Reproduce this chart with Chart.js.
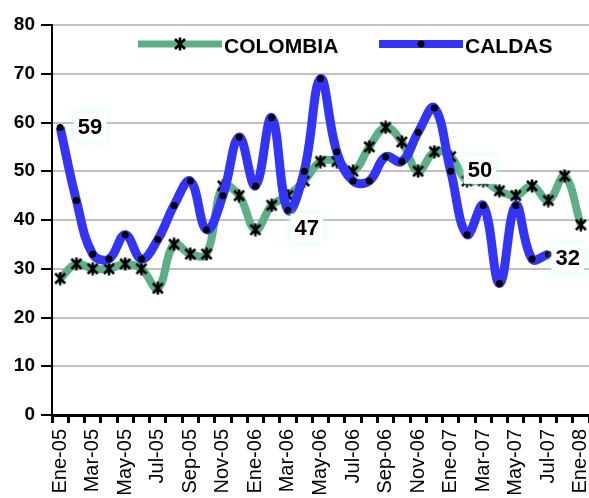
<!DOCTYPE html>
<html>
<head>
<meta charset="utf-8">
<script src="https://cdn.jsdelivr.net/npm/chart.js@4/dist/chart.umd.min.js"></script>
<style>
html,body{margin:0;padding:0;background:#fff;}
#wrap{width:589px;height:498px;position:relative;}
</style>
</head>
<body>
<div id="wrap"><canvas id="c" width="589" height="498"></canvas></div>
<script>
// ---- data ----
const categories = [
  'Ene-05','Feb-05','Mar-05','Abr-05','May-05','Jun-05','Jul-05','Ago-05','Sep-05','Oct-05','Nov-05','Dic-05',
  'Ene-06','Feb-06','Mar-06','Abr-06','May-06','Jun-06','Jul-06','Ago-06','Sep-06','Oct-06','Nov-06','Dic-06',
  'Ene-07','Feb-07','Mar-07','Abr-07','May-07','Jun-07','Jul-07','Ago-07','Ene-08'
];
const colombia = [28,31,30,30,31,30,26,35,33,33,47,45,38,43,45,48,52,52,50,55,59,56,50,54,53,48,48,46,45,47,44,49,39];
const caldas   = [59,44,33,32,37,32,36,43,48,38,45,57,47,61,42,50,69,54,48,48,53,52,58,63,50,37,43,27,43,32,33,null,null];
const yTicks = [0,10,20,30,40,50,60,70,80];
const noteTexts  = ['59','47','50','32'];
const noteX      = [1.84,15.15,25.8,31.2];   // category position (index units)
const noteY      = [59,38.4,50.3,32.2];      // value units

// ---- styles ----
const GREEN = '#5eae88';
const BLUE = '#3434f6';
const FONT = "'Liberation Sans', Arial, sans-serif";

function starMarker(){
  const s = 14, cv = document.createElement('canvas');
  cv.width = s; cv.height = s;
  const g = cv.getContext('2d');
  g.strokeStyle = '#000'; g.lineWidth = 2.6; g.lineCap = 'butt';
  g.beginPath();
  g.moveTo(2,2); g.lineTo(s-2,s-2);
  g.moveTo(s-2,2); g.lineTo(2,s-2);
  g.moveTo(s/2,0.5); g.lineTo(s/2,s-0.5);
  g.stroke();
  return cv;
}
const STAR = starMarker();

const legendPlugin = {
  id: 'customLegend',
  afterDraw(chart){
    const ctx = chart.ctx;
    const items = [
      {x0:138, x1:222, tx:224},
      {x0:379, x1:463, tx:465}
    ];
    const y = 44;
    chart.data.datasets.forEach((ds, i) => {
      const it = items[i];
      ctx.save();
      ctx.strokeStyle = ds.borderColor;
      ctx.lineWidth = i === 0 ? 7 : 8;
      ctx.beginPath(); ctx.moveTo(it.x0, y); ctx.lineTo(it.x1, y); ctx.stroke();
      const mx = (it.x0 + it.x1) / 2;
      if (i === 0) {
        ctx.drawImage(STAR, mx - STAR.width/2, y - STAR.height/2);
      } else {
        ctx.fillStyle = '#000';
        ctx.beginPath(); ctx.arc(mx, y, 3.5, 0, Math.PI*2); ctx.fill();
      }
      ctx.fillStyle = '#000';
      ctx.font = 'bold 21px ' + FONT;
      ctx.textBaseline = 'middle';
      ctx.textAlign = 'left';
      ctx.fillText(ds.label, it.tx, y + 3);
      ctx.restore();
    });
  }
};

const notesPlugin = {
  id: 'notes',
  afterDatasetsDraw(chart){
    const ctx = chart.ctx, xs = chart.scales.x, ys = chart.scales.y;
    noteTexts.forEach((t, i) => {
      const px = xs.getPixelForValue(noteX[i]);
      const py = ys.getPixelForValue(noteY[i]);
      ctx.save();
      ctx.font = 'bold 22px ' + FONT;
      const w = ctx.measureText(t).width + 8, h = 28;
      ctx.shadowColor = 'rgba(190,250,250,0.7)';
      ctx.shadowBlur = 8;
      ctx.fillStyle = '#fff';
      ctx.fillRect(px - w/2, py - h/2, w, h);
      ctx.shadowBlur = 0; ctx.shadowColor = 'transparent';
      ctx.fillStyle = '#000';
      ctx.textAlign = 'center'; ctx.textBaseline = 'middle';
      ctx.fillText(t, px, py + 1);
      ctx.restore();
    });
  }
};

new Chart(document.getElementById('c'), {
  type: 'line',
  data: {
    labels: categories,
    datasets: [
      {
        label: 'COLOMBIA', data: colombia,
        borderColor: GREEN, backgroundColor: GREEN, borderWidth: 8,
        tension: 0.4, fill: false, order: 1,
        pointStyle: STAR, pointRadius: 7, pointHoverRadius: 7
      },
      {
        label: 'CALDAS', data: caldas,
        borderColor: BLUE, backgroundColor: '#000', borderWidth: 9,
        tension: 0.4, fill: false, order: 0,
        pointStyle: 'circle', pointRadius: 3.5, pointHoverRadius: 3.5,
        pointBackgroundColor: '#000', pointBorderColor: '#000', pointBorderWidth: 0
      }
    ]
  },
  options: {
    responsive: false,
    animation: false,
    events: [],
    layout: { autoPadding: false, padding: { top: 25, right: 0, left: 0, bottom: 0 } },
    plugins: { legend: { display: false }, tooltip: { enabled: false } },
    scales: {
      x: {
        type: 'category',
        offset: true,
        grid: { display: true, offset: true, drawOnChartArea: false, drawTicks: true,
                tickLength: 8, tickColor: '#000', tickWidth: 3 },
        border: { display: true, color: '#000', width: 3 },
        ticks: {
          autoSkip: false, maxRotation: 90, minRotation: 90, padding: 6,
          color: '#000', font: { family: FONT, size: 20 },
          callback: function(v, i){ return i % 2 === 0 ? this.getLabelForValue(v) : ''; }
        },
        afterFit(scale){ scale.height = 83; scale.paddingLeft = 0; scale.paddingRight = 0; }
      },
      y: {
        min: 0, max: 80,
        afterBuildTicks(scale){ scale.ticks = yTicks.map(v => ({value: v})); },
        grid: { color: '#c0c0c0', lineWidth: 2, tickLength: 11, tickColor: '#000', tickWidth: 2,
                drawTicks: true },
        border: { display: true, color: '#000', width: 2 },
        ticks: { color: '#000', padding: 6, font: { family: FONT, size: 19, weight: 'bold' } },
        afterFit(scale){ scale.width = 52; scale.paddingTop = 0; scale.paddingBottom = 0; }
      }
    }
  },
  plugins: [legendPlugin, notesPlugin]
});
</script>
</body>
</html>
